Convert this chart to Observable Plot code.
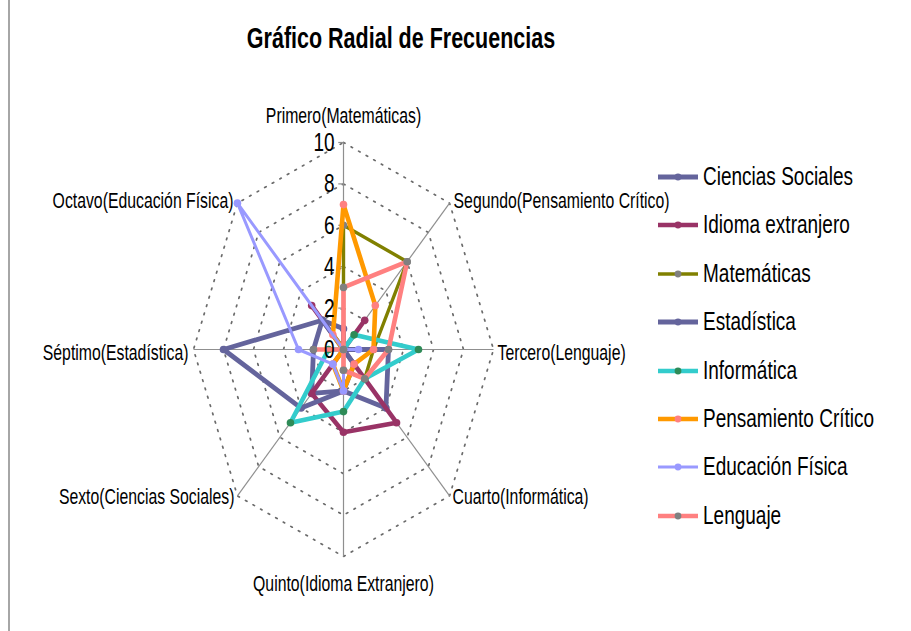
<!DOCTYPE html>
<html><head><meta charset="utf-8">
<script src="https://cdn.jsdelivr.net/npm/d3@7"></script>
<script src="https://cdn.jsdelivr.net/npm/@observablehq/plot@0.6"></script>
<style>
body{margin:0;background:#fff;font-family:"Liberation Sans",Arial,sans-serif;}
#wrap{position:relative;width:911px;height:631px;overflow:hidden;background:#fff;}
#wrap svg.plot{position:absolute;left:0;top:0;}
.frame{position:absolute;left:8px;top:0;width:2px;height:631px;background:#a6a6a6;}
.title{position:absolute;left:0;width:802px;top:22px;text-align:center;font-weight:bold;font-size:21.5px;color:#000;transform:scaleY(1.38);transform-origin:center top;white-space:nowrap;}
.leg{position:absolute;left:656px;height:20px;display:flex;align-items:center;white-space:nowrap;}
.leg span{font-size:19px;color:#000;margin-left:3px;display:inline-block;transform:scaleY(1.38);transform-origin:left center;}
</style></head><body><div id="wrap"><div class="frame"></div></div>
<script>
// ---- data ----
const axes = ["Primero(Matemáticas)","Segundo(Pensamiento Crítico)","Tercero(Lenguaje)","Cuarto(Informática)","Quinto(Idioma Extranjero)","Sexto(Ciencias Sociales)","Séptimo(Estadística)","Octavo(Educación Física)"];
const seriesNames = ["Ciencias Sociales","Idioma extranjero","Matemáticas","Estadística","Informática","Pensamiento Crítico","Educación Física","Lenguaje"];
const cienciasSociales   = [1,0,3,4,2,3,2,2];
const idiomaExtranjero   = [0,2,0,5,4,3,0,3];
const matematicas        = [6,6,2,2,1,0,0,0];
const estadistica        = [0,0,0,1,2,4,8,2];
const informatica        = [0,1,5,2,3,5,1,0];
const pensamientoCritico = [7,3,2,1,2,1,0,1];
const educacionFisica    = [0,0,1,0,2,1,3,10];
const lenguaje           = [3,6,3,2,1,0,2,0];
const seriesValues = [cienciasSociales,idiomaExtranjero,matematicas,estadistica,informatica,pensamientoCritico,educacionFisica,lenguaje];
const tickValues = [0,2,4,6,8,10];
const ringLevels = [2,4,6,8,10];
const axisMax = 10;
const chartTitle = "Gráfico Radial de Frecuencias";

// ---- styles ----
const lineColor   = ["#64649c","#993366","#808000","#64649c","#33cccc","#ff9900","#9999ff","#ff8080"];
const markerColor = ["#64649c","#993366","#808080","#64649c","#2e8b57","#ff8080","#9999ff","#808080"];
const lineWidth   = [4.8,4.6,3.4,4.8,4.6,4.6,3,4.6];
const SY = 1.38;

const ang = i => i * Math.PI / 4;
const px = (v,i) => v * Math.sin(ang(i));
const py = (v,i) => v * Math.cos(ang(i));

const rings = ringLevels.flatMap(level => axes.map((a,i) => ({level, x: px(level,i), y: py(level,i)})));
const axisRows = axes.map((a,i) => ({axis:a, i, x: px(axisMax,i), y: py(axisMax,i)}));
const tickRows = tickValues.map(v => ({v}));

const marks = [
  Plot.line(rings, {x:"x", y:"y", z:"level", curve:"linear-closed", stroke:"#6a6a6a", strokeWidth:1.7, strokeDasharray:"1.7,7"}),
  Plot.link(axisRows, {x1:0, y1:0, x2:"x", y2:"y", stroke:"#8f8f8f", strokeWidth:1.2}),
  Plot.link(tickRows.filter(d=>d.v>0), {x1:-0.35, x2:0, y1:"v", y2:"v", stroke:"#8f8f8f", strokeWidth:1.2}),
];
seriesNames.forEach((name,s) => {
  const rows = seriesValues[s].map((v,i) => ({series:name, axis:axes[i], value:v, x:px(v,i), y:py(v,i)}));
  marks.push(Plot.line(rows, {x:"x", y:"y", curve:"linear-closed", stroke:lineColor[s], strokeWidth:lineWidth[s], strokeLinejoin:"round"}));
  marks.push(Plot.dot(rows, {x:"x", y:"y", r:3.8, fill:markerColor[s], stroke:"none"}));
});
marks.push(
  Plot.text(tickRows, {x:0, y:"v", text:d=>String(d.v), textAnchor:"end", dx:-9, fontSize:19, fill:"#000"}),
  Plot.text(axisRows.filter(d=>d.i===0), {x:"x", y:"y", text:"axis", textAnchor:"middle", dy:-27, fontSize:15.8, fill:"#000"}),
  Plot.text(axisRows.filter(d=>d.i===4), {x:"x", y:"y", text:"axis", textAnchor:"middle", dy:27, fontSize:15.8, fill:"#000"}),
  Plot.text(axisRows.filter(d=>d.i===1), {x:"x", y:"y", text:"axis", textAnchor:"start", dx:4, dy:-2, fontSize:15.8, fill:"#000"}),
  Plot.text(axisRows.filter(d=>d.i===2), {x:"x", y:"y", text:"axis", textAnchor:"start", dx:4, dy:3, fontSize:15.8, fill:"#000"}),
  Plot.text(axisRows.filter(d=>d.i===3), {x:"x", y:"y", text:"axis", textAnchor:"start", dx:3, dy:1, fontSize:15.8, fill:"#000"}),
  Plot.text(axisRows.filter(d=>d.i===5), {x:"x", y:"y", text:"axis", textAnchor:"end", dx:-3, dy:1, fontSize:15.8, fill:"#000"}),
  Plot.text(axisRows.filter(d=>d.i===6), {x:"x", y:"y", text:"axis", textAnchor:"end", dx:-5, dy:3, fontSize:15.8, fill:"#000"}),
  Plot.text(axisRows.filter(d=>d.i===7), {x:"x", y:"y", text:"axis", textAnchor:"end", dx:-4, dy:-2, fontSize:15.8, fill:"#000"})
);

const chart = Plot.plot({
  width: 911, height: 631,
  x: {domain:[-axisMax,axisMax], range:[193,493], axis:null},
  y: {domain:[-axisMax,axisMax], range:[556,142], axis:null},
  style: {background:"transparent", fontFamily:"'Liberation Sans', Arial, sans-serif", overflow:"visible"},
  marks
});
const wrap = document.getElementById("wrap");
wrap.appendChild(chart);

// vertical stretch of each text about its own centre, as in the reference
Array.from(chart.querySelectorAll("text")).forEach(t => {
  const p = t.parentNode;
  const r = t.getBoundingClientRect();
  const ctm = p.getScreenCTM();
  if (!ctm) return;
  const inv = ctm.inverse();
  const pt = chart.createSVGPoint();
  pt.x = r.left + r.width/2; pt.y = r.top + r.height/2;
  const c = pt.matrixTransform(inv);
  const g = document.createElementNS("http://www.w3.org/2000/svg","g");
  g.setAttribute("transform", `translate(${c.x},${c.y}) scale(1,${SY}) translate(${-c.x},${-c.y})`);
  p.insertBefore(g, t);
  g.appendChild(t);
});

const title = document.createElement("div");
title.className = "title"; title.textContent = chartTitle;
wrap.appendChild(title);

seriesNames.forEach((name,s) => {
  const row = document.createElement("div");
  row.className = "leg";
  row.style.top = (167 + s*48.4) + "px";
  const sw = d3.create("svg").attr("width",44).attr("height",20);
  sw.append("line").attr("x1",2).attr("x2",42).attr("y1",10).attr("y2",10)
    .attr("stroke",lineColor[s]).attr("stroke-width",lineWidth[s]);
  sw.append("circle").attr("cx",22).attr("cy",10).attr("r",3.4).attr("fill",markerColor[s]);
  row.appendChild(sw.node());
  const sp = document.createElement("span"); sp.textContent = name;
  row.appendChild(sp);
  wrap.appendChild(row);
});
</script>
</body></html>
